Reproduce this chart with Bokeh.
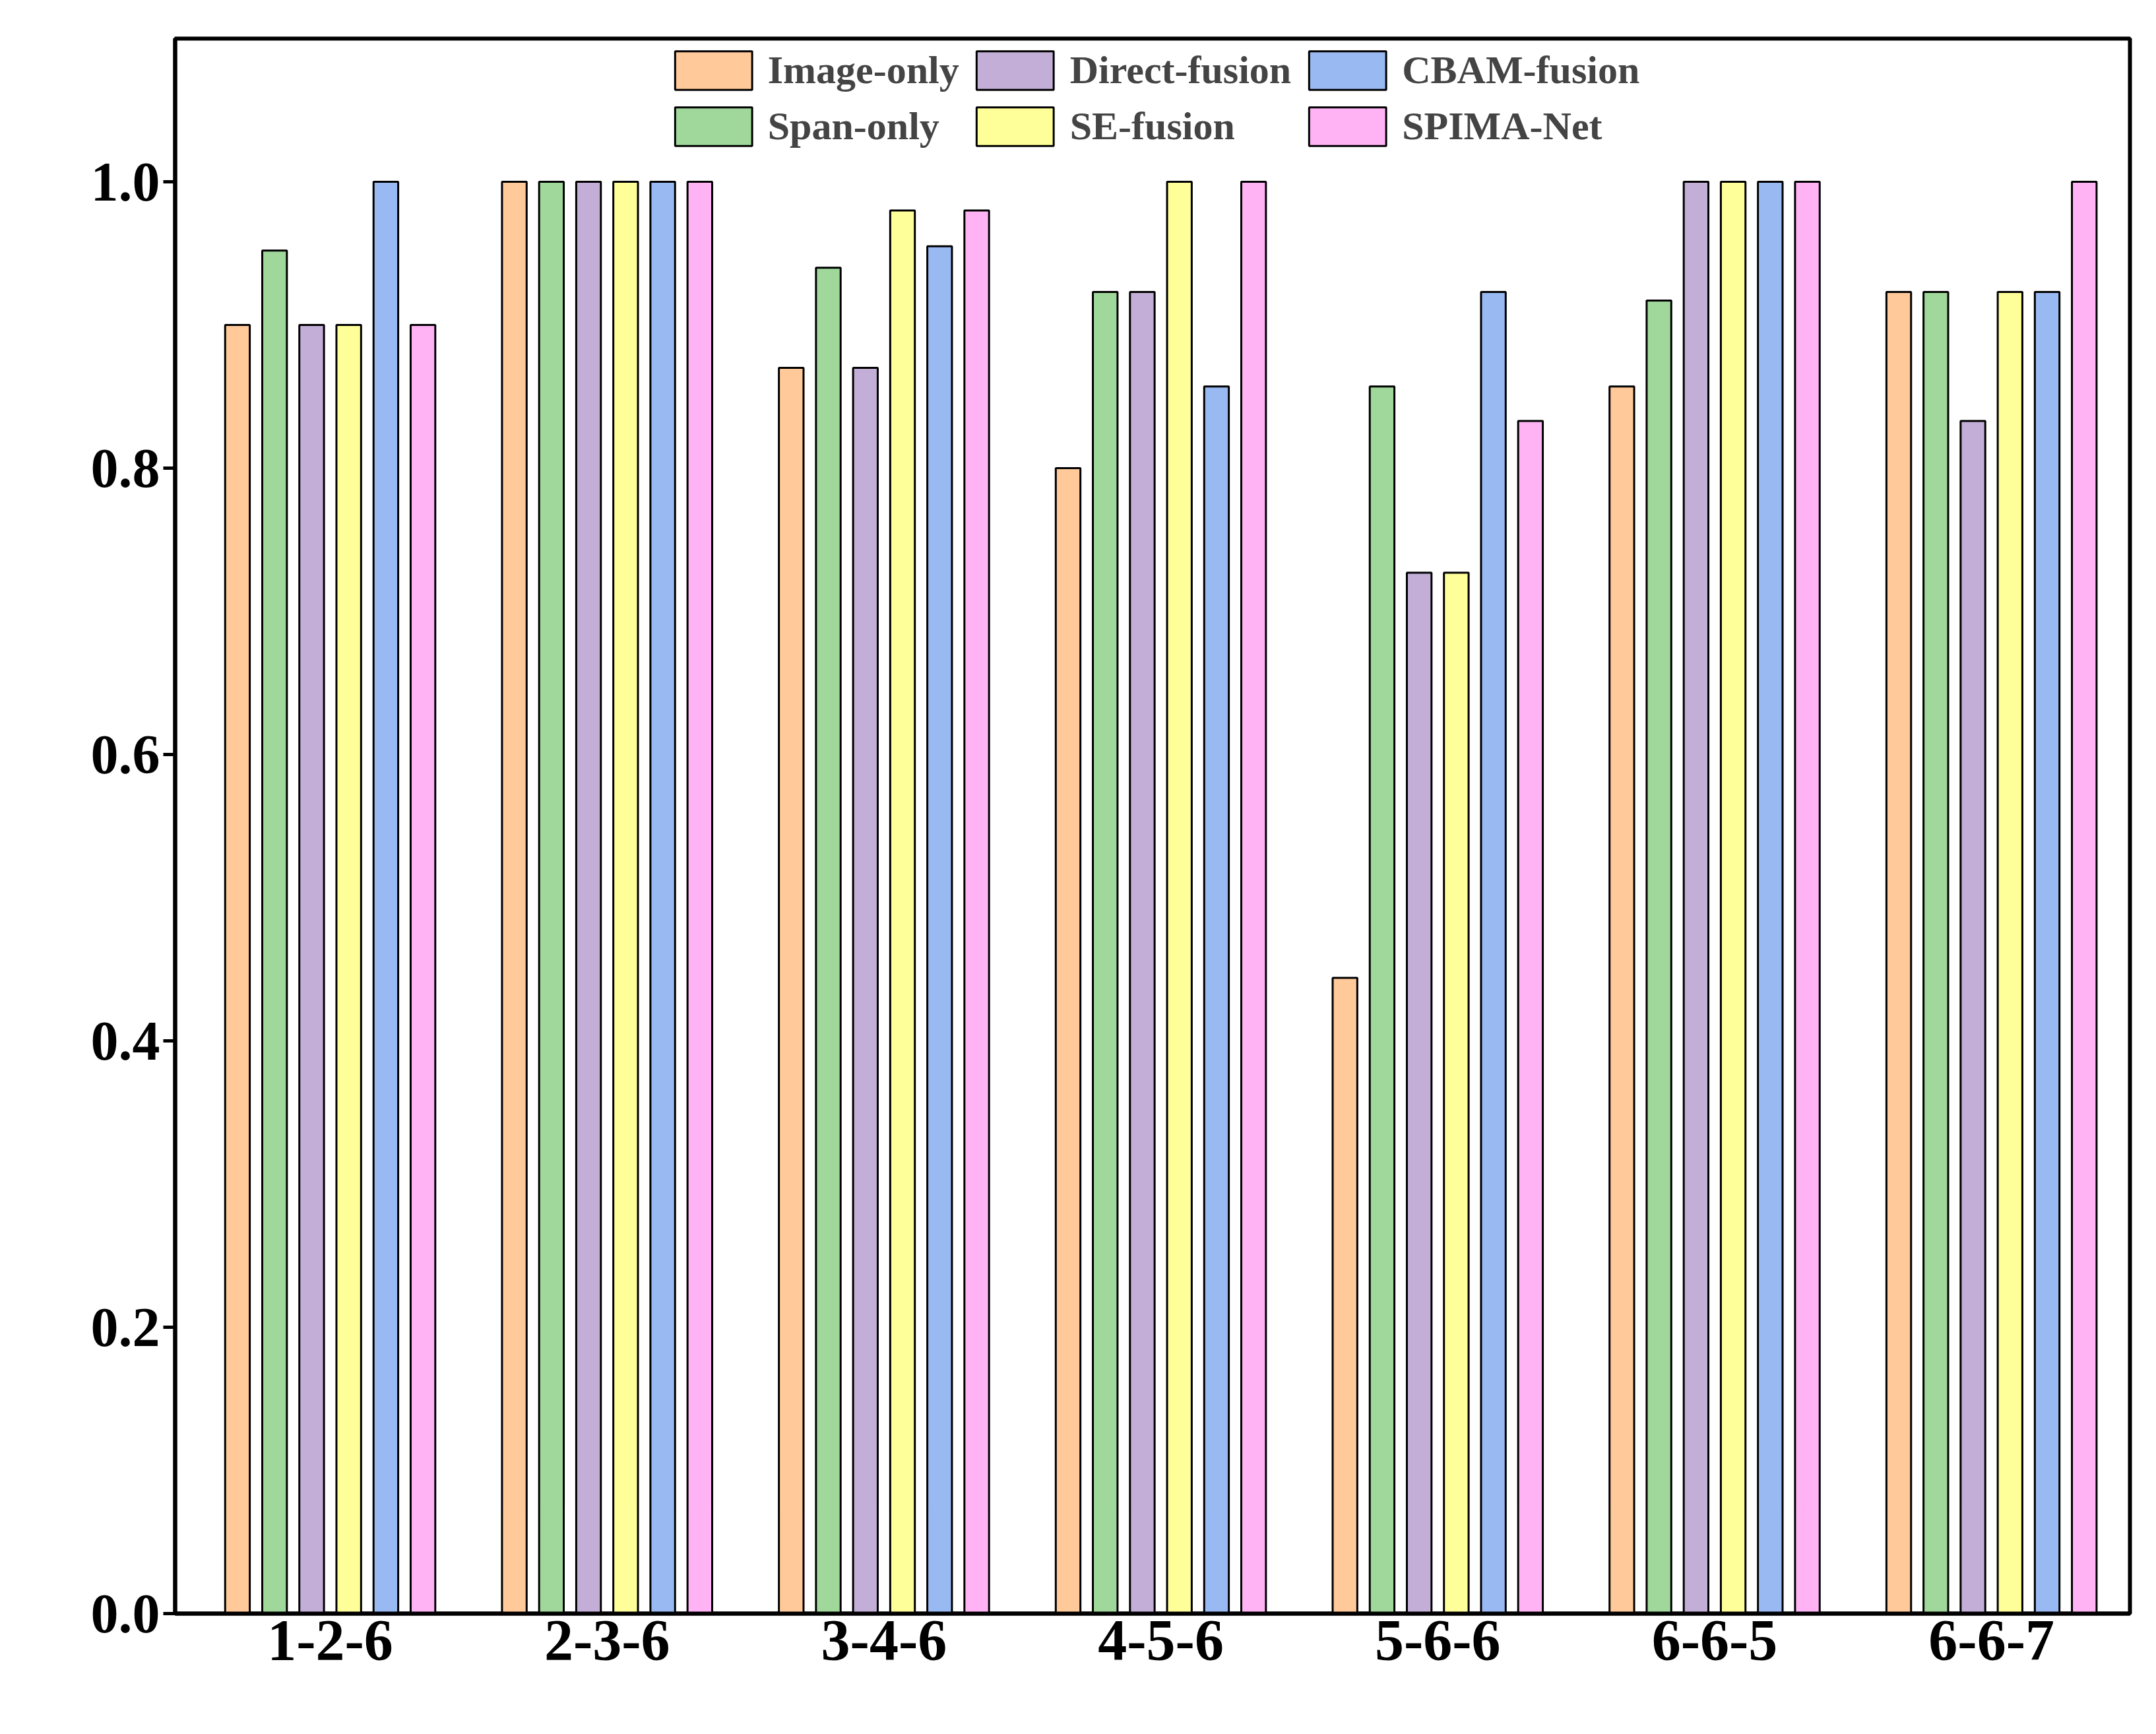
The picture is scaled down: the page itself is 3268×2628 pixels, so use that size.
from bokeh.plotting import figure
from bokeh.models import ColumnDataSource, Legend, LegendItem, FixedTicker
from bokeh.embed import file_html
from bokeh.resources import INLINE

categories = ["1-2-6", "2-3-6", "3-4-6", "4-5-6", "5-6-6", "6-6-5", "6-6-7"]
series_names = ["Image-only", "Span-only", "Direct-fusion", "SE-fusion", "CBAM-fusion", "SPIMA-Net"]
image_only = [0.900, 1.000, 0.870, 0.800, 0.444, 0.857, 0.923]
span_only = [0.952, 1.000, 0.940, 0.923, 0.857, 0.917, 0.923]
direct_fusion = [0.900, 1.000, 0.870, 0.923, 0.727, 1.000, 0.833]
se_fusion = [0.900, 1.000, 0.980, 1.000, 0.727, 1.000, 0.923]
cbam_fusion = [1.000, 1.000, 0.955, 0.857, 0.923, 1.000, 0.923]
spima_net = [0.900, 1.000, 0.980, 1.000, 0.833, 1.000, 1.000]
colors = ["#FFC999", "#9FD89A", "#C2AED6", "#FFFF99", "#99B9F2", "#FFB3F5"]
series = [image_only, span_only, direct_fusion, se_fusion, cbam_fusion, spima_net]

FONT = "Liberation Serif"
p = figure(width=3250, height=2610, output_backend="svg", toolbar_location=None,
           x_range=(-0.56, 6.5), y_range=(0, 1.1),
           min_border_left=265, min_border_right=22, min_border_top=58, min_border_bottom=165)
p.grid.visible = False
p.outline_line_color = "black"
p.outline_line_width = 6

renderers = []
xs = list(range(len(categories)))
for k, (vals, c) in enumerate(zip(series, colors)):
    off = (k - 2.5) * 0.134
    src = ColumnDataSource(dict(x=[x + off for x in xs], top=vals))
    r = p.vbar(x="x", top="top", width=0.089, bottom=0, source=src,
               fill_color=c, line_color="black", line_width=3)
    renderers.append(r)

p.xaxis.ticker = FixedTicker(ticks=xs)
p.xaxis.major_label_overrides = {i: c for i, c in enumerate(categories)}
p.yaxis.ticker = FixedTicker(ticks=[0, 0.2, 0.4, 0.6, 0.8, 1.0])
p.yaxis.major_label_overrides = {0: "0.0", 0.2: "0.2", 0.4: "0.4", 0.6: "0.6", 0.8: "0.8", 1.0: "1.0"}
for ax in (p.xaxis, p.yaxis):
    ax.axis_line_width = 6
    ax.major_tick_line_width = 5
    ax.minor_tick_line_color = None
    ax.major_label_text_font = FONT
    ax.major_label_text_font_style = "bold"
    ax.major_label_text_color = "black"
p.xaxis.major_tick_line_color = None
p.xaxis.major_label_text_font_size = "88px"
p.yaxis.major_label_text_font_size = "84px"
p.yaxis.major_tick_out = 18
p.yaxis.major_tick_in = 0

items = [LegendItem(label=n, renderers=[r]) for n, r in zip(series_names, renderers)]
leg = Legend(items=items, ncols=3, location="top_center",
             label_text_font=FONT, label_text_font_style="bold", label_text_font_size="60px",
             glyph_width=146, glyph_height=73, label_standoff=10, spacing=12,
             border_line_color=None, background_fill_alpha=0, margin=12, padding=6)
p.add_layout(leg, "center")

open("out.html", "w").write(file_html(p, INLINE))
